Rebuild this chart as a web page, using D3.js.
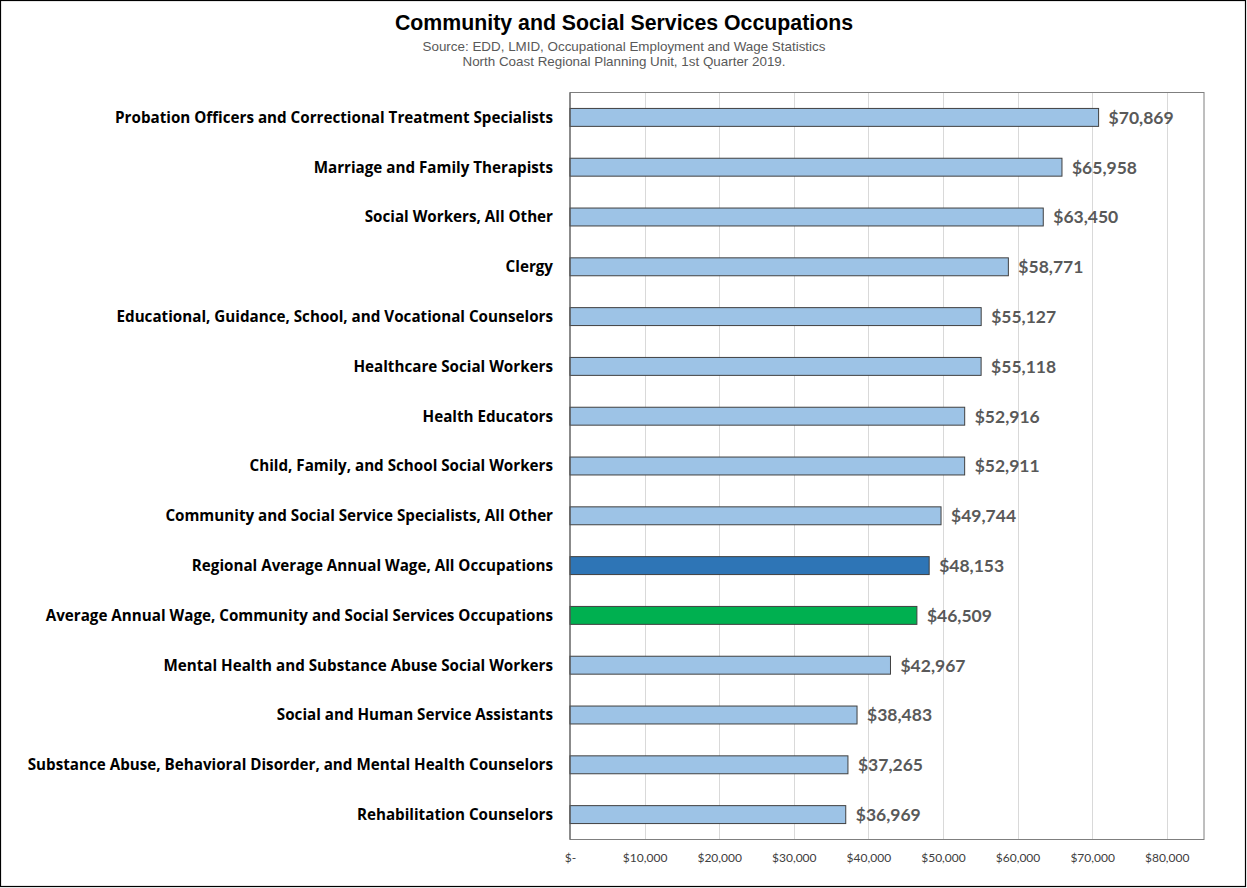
<!DOCTYPE html>
<html><head><meta charset="utf-8">
<script src="https://cdn.jsdelivr.net/npm/d3@7"></script>
<style>body{margin:0;background:#fff}svg{display:block}</style>
</head><body>
<script>
const categories = [
  "Probation Officers and Correctional Treatment Specialists",
  "Marriage and Family Therapists",
  "Social Workers, All Other",
  "Clergy",
  "Educational, Guidance, School, and Vocational Counselors",
  "Healthcare Social Workers",
  "Health Educators",
  "Child, Family, and School Social Workers",
  "Community and Social Service Specialists, All Other",
  "Regional Average Annual Wage, All Occupations",
  "Average Annual Wage, Community and Social Services Occupations",
  "Mental Health and Substance Abuse Social Workers",
  "Social and Human Service Assistants",
  "Substance Abuse, Behavioral Disorder, and Mental Health Counselors",
  "Rehabilitation Counselors"
];
const wages = [70869, 65958, 63450, 58771, 55127, 55118, 52916, 52911, 49744, 48153, 46509, 42967, 38483, 37265, 36969];
const barKinds = ["occ","occ","occ","occ","occ","occ","occ","occ","occ","regional","average","occ","occ","occ","occ"];
const tickValues = [0, 10000, 20000, 30000, 40000, 50000, 60000, 70000, 80000];
const tickLabels = ["$-", "$10,000", "$20,000", "$30,000", "$40,000", "$50,000", "$60,000", "$70,000", "$80,000"];
const title = "Community and Social Services Occupations";
const subtitles = ["Source: EDD, LMID, Occupational Employment and Wage Statistics", "North Coast Regional Planning Unit, 1st Quarter 2019."];

const W = 1247, H = 888;
const colors = {occ: "#9DC3E6", regional: "#2E75B6", average: "#00B050"};
const svg = d3.select("body").append("svg").attr("width", W).attr("height", H);

svg.append("rect").attr("x", 0.5).attr("y", 0.5).attr("width", W - 2).attr("height", H - 2)
  .attr("fill", "#fff").attr("stroke", "#000").attr("stroke-width", 1.2);

const m = {left: 570, right: 1204, top: 92.5, bottom: 839.5};
const x = d3.scaleLinear().domain([0, 85000]).range([m.left, m.right]);
const y = d3.scaleBand().domain(categories).range([m.top, m.bottom]).paddingInner(0.64).paddingOuter(0.32);

// gridlines
svg.append("g").selectAll("line").data(tickValues.slice(1)).join("line")
  .attr("x1", d => Math.round(x(d)) + 0.5).attr("x2", d => Math.round(x(d)) + 0.5)
  .attr("y1", m.top).attr("y2", m.bottom).attr("stroke", "#D9D9D9").attr("stroke-width", 1);

// plot border
svg.append("rect").attr("x", m.left).attr("y", m.top).attr("width", m.right - m.left).attr("height", m.bottom - m.top)
  .attr("fill", "none").attr("stroke", "#7F7F7F").attr("stroke-width", 1);

// bars
svg.append("g").selectAll("rect").data(wages).join("rect")
  .attr("x", x(0)).attr("y", (d, i) => y(categories[i]))
  .attr("width", d => x(d) - x(0)).attr("height", y.bandwidth())
  .attr("fill", (d, i) => colors[barKinds[i]]).attr("stroke", "#404040").attr("stroke-width", 1);

// left axis line
svg.append("line").attr("x1", m.left).attr("x2", m.left).attr("y1", m.top).attr("y2", m.bottom)
  .attr("stroke", "#595959").attr("stroke-width", 1);

// value labels
svg.append("g").selectAll("text").data(wages).join("text")
  .attr("x", d => x(d) + 10).attr("y", (d, i) => y(categories[i]) + y.bandwidth() / 2)
  .attr("dy", "0.36em").attr("font-family", "Lato, 'Open Sans', sans-serif").attr("font-weight", "bold")
  .attr("font-size", "17.5px").attr("fill", "#595959")
  .text(d => "$" + d3.format(",")(d));

// category labels
svg.append("g").selectAll("text").data(categories).join("text")
  .attr("x", 553).attr("y", d => y(d) + y.bandwidth() / 2).attr("dy", "0.36em")
  .attr("text-anchor", "end").attr("font-family", "'Open Sans', Lato, sans-serif").attr("font-weight", "bold")
  .attr("font-size", "15.2px").attr("fill", "#000").text(d => d);

// x axis
const xAxis = d3.axisBottom(x).tickValues(tickValues).tickSize(0).tickPadding(0)
  .tickFormat((d, i) => tickLabels[i]);
const gx = svg.append("g").attr("transform", `translate(0,${m.bottom + 22})`).call(xAxis);
gx.select(".domain").remove();
gx.selectAll("text").attr("font-family", "Lato, 'Open Sans', sans-serif").attr("font-size", "12px")
  .attr("fill", "#404040").attr("dy", "0");

// titles
svg.append("text").attr("x", 624).attr("y", 30).attr("text-anchor", "middle")
  .attr("font-family", "'Liberation Sans', Arial, sans-serif").attr("font-weight", "bold")
  .attr("font-size", "21.3px").attr("fill", "#000").text(title);
svg.append("g").selectAll("text").data(subtitles).join("text")
  .attr("x", 624).attr("y", (d, i) => 50.5 + i * 15).attr("text-anchor", "middle")
  .attr("font-family", "'Liberation Sans', Arial, sans-serif").attr("font-size", "13.4px")
  .attr("fill", "#595959").text(d => d);
</script>
</body></html>
